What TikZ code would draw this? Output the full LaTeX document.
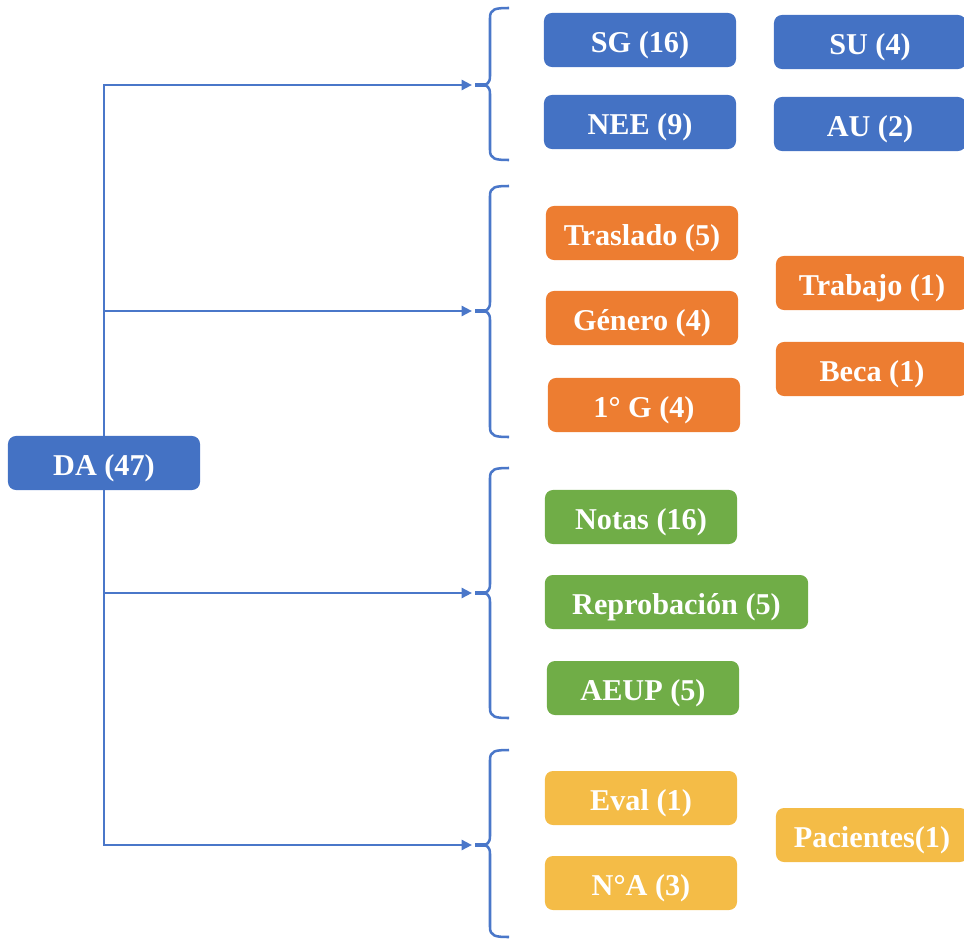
\documentclass[tikz,border=0pt]{standalone}
\usepackage{fontspec}
\setmainfont{Liberation Serif}
\usetikzlibrary{arrows.meta}
\definecolor{cblue}{HTML}{4472C4}
\definecolor{corange}{HTML}{ED7D31}
\definecolor{cgreen}{HTML}{70AD47}
\definecolor{cyellow}{HTML}{F4BC47}
\definecolor{cline}{HTML}{4A77C9}
\tikzset{
  box/.style={rounded corners=0.2cm, minimum width=4.8cm, minimum height=1.35cm,
    inner sep=0pt, text=white, text height=18.4pt, text depth=0pt,
    font=\fontsize{21.5}{24}\selectfont\bfseries},
  bluebox/.style={box, fill=cblue},
  orangebox/.style={box, fill=corange},
  greenbox/.style={box, fill=cgreen},
  yellowbox/.style={box, fill=cyellow},
  link/.style={draw=cline, line width=1.8pt, -{Triangle[length=2.6mm,width=2.5mm]}},
  bracestroke/.style={draw=cline, line width=1.8pt},
  stub/.style={draw=cline, line width=2.6pt}
}
\begin{document}
\begin{tikzpicture}[x=0.025cm, y=-0.025cm]
\useasboundingbox (0,0) rectangle (964,939);
\clip (0,0) rectangle (964,939);

% root
\node[bluebox] (da) at (104,463) {DA (47)};

% arrow tips, one per group
\coordinate (t1) at (472,85);
\coordinate (t2) at (472,311);
\coordinate (t3) at (472,593);
\coordinate (t4) at (472,845);

% connectors from the root to each group
\draw[link] (da.north) |- (t1);
\draw[link] (da.north) |- (t2);
\draw[link] (da.south) |- (t3);
\draw[link] (da.south) |- (t4);

% curly braces: top, middle, bottom, with a short stub at the point
\foreach \T/\M/\B in {8/85/160, 186/311/437, 468/593/718, 750/845/937}{
  \draw[bracestroke]
    (509,\T) .. controls (495,\T) and (490,\T+1) .. (490,\T+10)
    -- (490,\M-9) .. controls (490,\M-2) and (487,\M) .. (482,\M);
  \draw[bracestroke]
    (482,\M) .. controls (487,\M) and (490,\M+2) .. (490,\M+9)
    -- (490,\B-10) .. controls (490,\B-1) and (495,\B) .. (509,\B);
  \draw[stub] (475,\M) -- (486,\M);
}

% group 1
\node[bluebox] (sg) at (640,40) {SG (16)};
\node[bluebox] (su) at (870,42) {SU (4)};
\node[bluebox] (nee) at (640,122) {NEE (9)};
\node[bluebox] (au) at (870,124) {AU (2)};

% group 2
\node[orangebox] (tras) at (642,233) {Traslado (5)};
\node[orangebox] (gen) at (642,318) {Género (4)};
\node[orangebox] (g1) at (644,405) {1° G (4)};
\node[orangebox] (trab) at (872,283) {Trabajo (1)};
\node[orangebox] (beca) at (872,369) {Beca (1)};

% group 3
\node[greenbox] (notas) at (641,517) {Notas (16)};
\node[greenbox, minimum width=6.58cm] (repro) at (676.5,602) {Reprobación (5)};
\node[greenbox] (aeup) at (643,688) {AEUP (5)};

% group 4
\node[yellowbox] (eval) at (641,798) {Eval (1)};
\node[yellowbox] (na) at (641,883) {N°A (3)};
\node[yellowbox] (pac) at (872,835) {Pacientes(1)};
\end{tikzpicture}
\end{document}
